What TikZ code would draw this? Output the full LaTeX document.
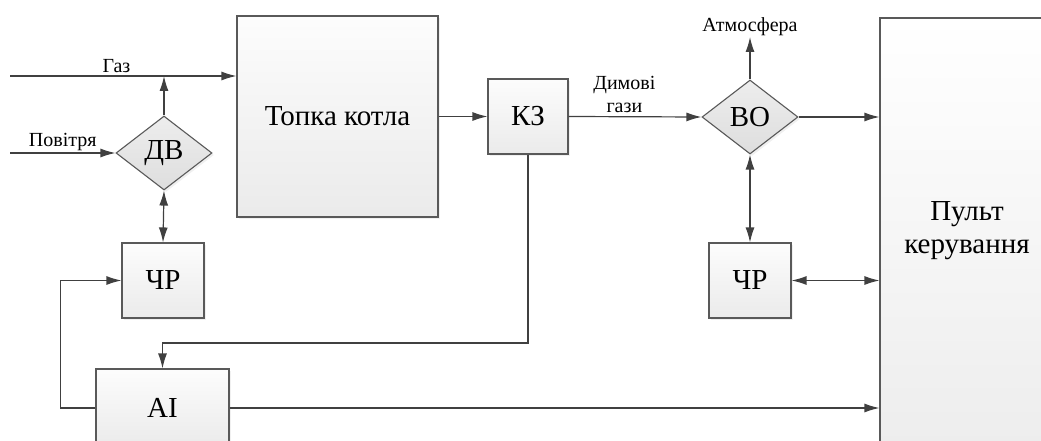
\documentclass[tikz,border=0pt]{standalone}
\usepackage{fontspec}
\setmainfont{Liberation Serif}
\newfontfamily\shrift{Liberation Serif}
\usetikzlibrary{arrows.meta,shapes.geometric,shadows}

\begin{document}
\begin{tikzpicture}[x=1pt,y=-1pt,
    >={Latex[length=15pt,width=9pt]},
    blok/.style={draw=black!65,line width=1.1pt,top color=black!1,bottom color=black!8,
        inner sep=0pt,align=center,font=\shrift\fontsize{29}{33}\selectfont,
        drop shadow={opacity=0.12,shadow xshift=2pt,shadow yshift=-2pt}},
    romb/.style={blok,diamond,minimum width=96pt,minimum height=74pt,
        top color=black!7,bottom color=black!13},
    kv/.style={blok,minimum width=82pt,minimum height=75pt},
    zv/.style={line width=1.2pt,draw=black!75},
    mitka/.style={inner sep=1pt,align=center,font=\shrift\fontsize{20}{23}\selectfont}]
  \useasboundingbox (0,0) rectangle (1041,441);
  \clip (0,0) rectangle (1041,441);

  \node[blok,minimum width=201pt,minimum height=201pt] (topka) at (337.5,116.5) {Топка котла};
  \node[kv,minimum width=80pt] (kz) at (528,116.5) {КЗ};
  \node[romb] (dv) at (164,153) {ДВ};
  \node[romb] (vo) at (750,117) {ВО};
  \node[kv] (chr1) at (163,280.5) {ЧР};
  \node[kv] (chr2) at (750,280.5) {ЧР};
  \node[blok,minimum width=133pt,minimum height=78pt] (ai) at (162.5,408) {АІ};
  \node[blok,minimum width=174pt,minimum height=426pt,top color=white,bottom color=black!7] (pult) at (967,231) {Пульт\\керування};

  \coordinate (gaz) at (10,76);
  \coordinate (povitria) at (10,153);
  \coordinate (atm) at (750,37);
  \coordinate (kzniz) at (528,343);

  \draw[zv,->] (gaz) -- (topka.west |- gaz) node[mitka,pos=0.47,above=2pt]{Газ};
  \draw[zv,->] (povitria) -- (dv.west) node[mitka,midway,above=1pt]{Повітря};
  \draw[zv,->] (dv.north) -- (dv.north |- gaz);
  \draw[zv,<->] (dv.south) -- (chr1.north);
  \draw[zv,->] (topka.east) -- (kz.west);
  \draw[zv,->] (kz.east) -- (vo.west) node[mitka,pos=0.42,above=2pt]{Димові\\гази};
  \draw[zv,->] (vo.north) -- (atm) node[mitka,above=0pt]{Атмосфера};
  \draw[zv,->] (vo.east) -- (pult.west |- vo.east);
  \draw[zv,<->] (vo.south) -- (chr2.north);
  \draw[zv,<->] (chr2.east) -- (pult.west |- chr2.east);
  \draw[zv,->] (kz.south) -- (kzniz) -| (ai.north);
  \draw[zv,->] (ai.west) -- ++(-35,0) |- (chr1.west);
  \draw[zv,->] (ai.east) -- (pult.west |- ai.east);
\end{tikzpicture}
\end{document}
